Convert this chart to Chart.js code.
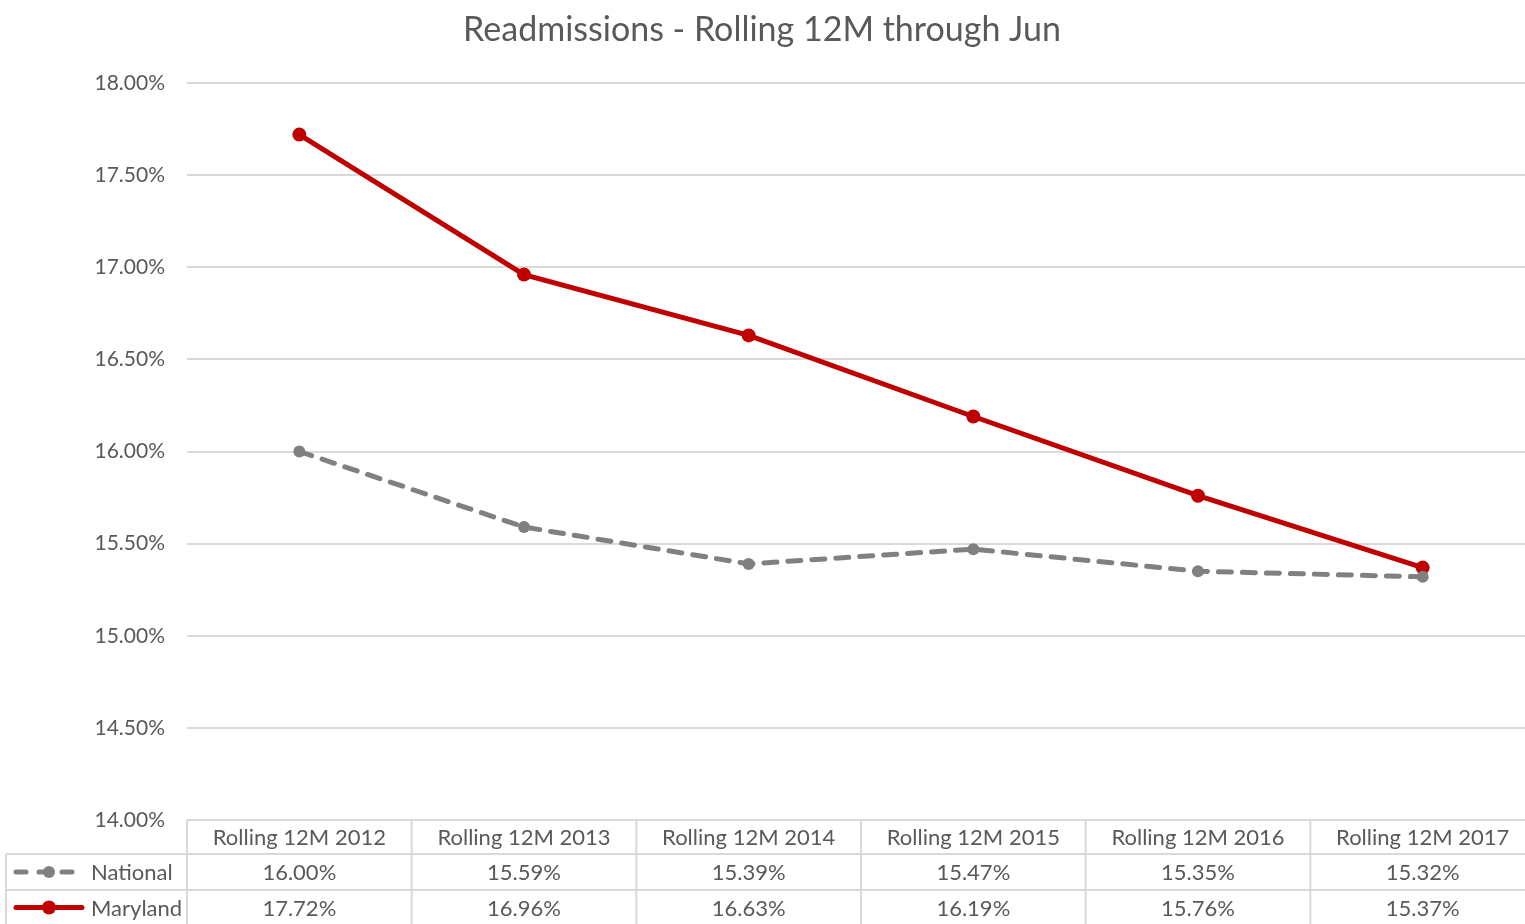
<!DOCTYPE html>
<html>
<head>
<meta charset="utf-8">
<script src="https://cdn.jsdelivr.net/npm/chart.js@4"></script>
<style>
  body { margin: 0; overflow: hidden; background: #fff; }
  #wrap { width: 1525px; height: 924px; overflow: hidden; }
</style>
</head>
<body>
<div id="wrap"><canvas id="myChart" width="1542" height="924"></canvas></div>
<script>
let ctx = document.querySelector('#myChart').getContext('2d')

const title = 'Readmissions - Rolling 12M through Jun'
const categories = ['Rolling 12M 2012', 'Rolling 12M 2013', 'Rolling 12M 2014', 'Rolling 12M 2015', 'Rolling 12M 2016', 'Rolling 12M 2017']
const national = [16.00, 15.59, 15.39, 15.47, 15.35, 15.32]
const maryland = [17.72, 16.96, 16.63, 16.19, 15.76, 15.37]
const yMin = 14
const yMax = 18
const yStep = 0.5

const font = 'Lato, "Open Sans", sans-serif'
const textColor = '#595959'
const gridColor = '#d9d9d9'

// draws the title and the data table under the plot
const tablePlugin = {
    id: 'dataTable',
    afterDraw(chart) {
        const c = chart.ctx
        const area = chart.chartArea
        const x = chart.scales.x
        const rowTop = area.bottom
        const rowH = [34, 36, 35]
        const y1 = rowTop + rowH[0]
        const y2 = y1 + rowH[1]
        const y3 = y2 + rowH[2]
        const legendLeft = 6
        const colW = (area.right - area.left) / categories.length

        c.save()
        c.fillStyle = textColor
        c.font = '34px ' + font
        c.textAlign = 'center'
        c.textBaseline = 'middle'
        c.fillText(title, 762, 30)

        c.strokeStyle = gridColor
        c.lineWidth = 2
        c.beginPath()
        c.moveTo(area.left, rowTop); c.lineTo(area.right, rowTop)
        c.moveTo(legendLeft, y1); c.lineTo(area.right, y1)
        c.moveTo(legendLeft, y2); c.lineTo(area.right, y2)
        c.moveTo(legendLeft, y3); c.lineTo(area.right, y3)
        c.moveTo(legendLeft, y1); c.lineTo(legendLeft, y3)
        for (let i = 0; i <= categories.length; i++) {
            const vx = area.left + i * colW
            c.moveTo(vx, rowTop); c.lineTo(vx, y3)
        }
        c.stroke()

        c.font = '22px ' + font
        c.fillStyle = textColor
        categories.forEach((cat, i) => {
            const cx = x.getPixelForValue(i)
            c.fillText(cat, cx, rowTop + rowH[0] / 2 + 1)
            c.fillText(national[i].toFixed(2) + '%', cx, y1 + rowH[1] / 2 + 1)
            c.fillText(maryland[i].toFixed(2) + '%', cx, y2 + rowH[2] / 2 + 1)
        })

        // legend keys
        const keys = [
            { name: 'National', y: y1 + rowH[1] / 2, color: '#808080', dash: [10, 13], r: 6 },
            { name: 'Maryland', y: y2 + rowH[2] / 2, color: '#c00000', dash: [], r: 7 }
        ]
        keys.forEach(k => {
            c.strokeStyle = k.color
            c.lineWidth = 5
            c.lineCap = 'round'
            c.setLineDash(k.dash)
            c.beginPath()
            c.moveTo(16, k.y); c.lineTo(82, k.y)
            c.stroke()
            c.setLineDash([])
            c.fillStyle = k.color
            c.beginPath()
            c.arc(49, k.y, k.r, 0, Math.PI * 2)
            c.fill()
            c.fillStyle = textColor
            c.textAlign = 'left'
            c.fillText(k.name, 91, k.y + 1)
        })
        c.restore()
    }
}

let readmitChart = new Chart(ctx, {
    type: 'line',
    data: {
        labels: categories,
        datasets: [{
            label: 'National',
            data: national,
            borderColor: '#808080',
            backgroundColor: '#808080',
            borderWidth: 5,
            borderDash: [13, 11],
            borderCapStyle: 'round',
            pointRadius: 6,
            pointBorderWidth: 0,
            tension: 0
        }, {
            label: 'Maryland',
            data: maryland,
            borderColor: '#c00000',
            backgroundColor: '#c00000',
            borderWidth: 5,
            pointRadius: 7,
            pointBorderWidth: 0,
            tension: 0
        }]
    },
    options: {
        responsive: false,
        animation: false,
        layout: { padding: { top: 83, bottom: 96, left: 0, right: 2 } },
        plugins: {
            legend: { display: false },
            title: { display: false },
            tooltip: { enabled: false }
        },
        scales: {
            x: {
                offset: true,
                grid: { display: false },
                border: { display: false },
                ticks: { display: false }
            },
            y: {
                min: yMin,
                max: yMax,
                afterFit(scale) { scale.width = 187 },
                grid: { color: gridColor, lineWidth: 2, drawTicks: false },
                border: { display: false },
                ticks: {
                    stepSize: yStep,
                    padding: 22,
                    color: textColor,
                    font: { family: font, size: 21 },
                    callback: v => v.toFixed(2) + '%'
                }
            }
        }
    },
    plugins: [tablePlugin]
})
</script>
</body>
</html>
